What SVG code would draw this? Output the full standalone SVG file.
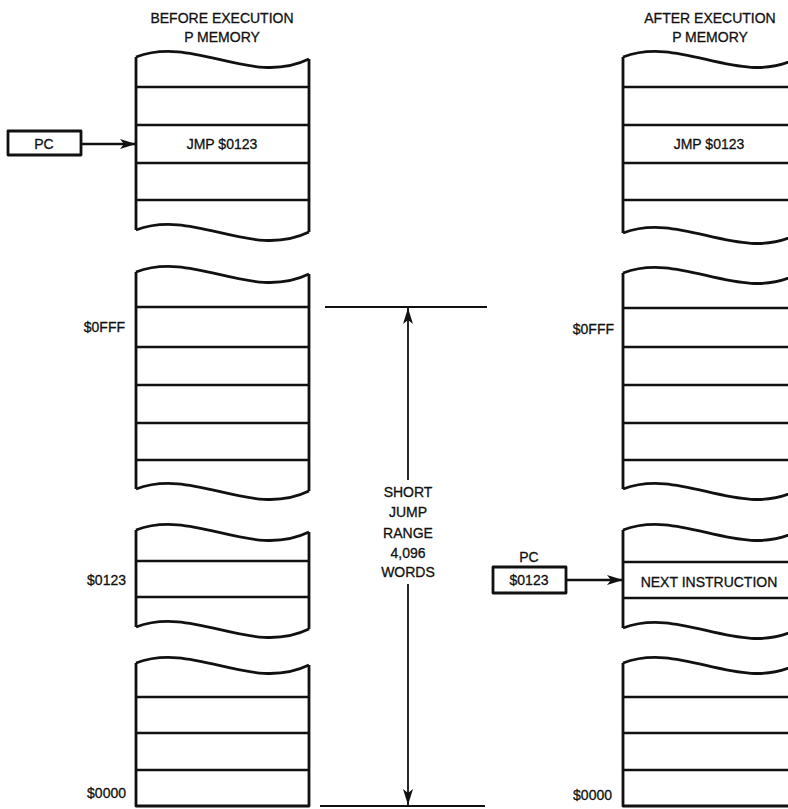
<svg xmlns="http://www.w3.org/2000/svg" xmlns:xlink="http://www.w3.org/1999/xlink" width="788" height="809" viewBox="0 0 788 809">
<style>
text{font-family:"Liberation Sans",Arial,sans-serif;font-size:14px;fill:#111;stroke:#111;stroke-width:0.3;}
.c{text-anchor:middle;}
.e{text-anchor:end;}
.ol{fill:none;stroke:#111;stroke-width:2.8;stroke-linejoin:round;}
.ln{fill:none;stroke:#111;stroke-width:2.5;}
.thin{fill:none;stroke:#111;stroke-width:1.8;}
</style>
<defs>
<path id="wave" d="M0,0 C58,-22 115,30 173,2" class="ol"/>
<marker id="ah" viewBox="0 0 16 10" refX="16" refY="5" markerWidth="16" markerHeight="10" markerUnits="userSpaceOnUse" orient="auto-start-reverse">
<path d="M0,0 L16,5 L0,10 L4,5 Z" fill="#111"/>
</marker>
</defs>
<rect width="788" height="809" fill="#fff"/>

<g id="titles">
<text class="c" x="222" y="23">BEFORE EXECUTION</text>
<text class="c" x="222" y="42">P MEMORY</text>
<text class="c" x="710" y="23">AFTER EXECUTION</text>
<text class="c" x="710" y="42">P MEMORY</text>
</g>

<g id="pc-before">
<rect x="8" y="131" width="73" height="24" class="ol"/>
<text class="c" x="44" y="149">PC</text>
</g>

<g id="mem-before-1">
<use xlink:href="#wave" x="136" y="57"/>
<use xlink:href="#wave" x="136" y="230"/>
<path class="ol" d="M136,57 V230 M309,59 V232"/>
<path class="ln" d="M136,87 H309 M136,125 H309 M136,163 H309 M136,200 H309"/>
<text class="c" x="222" y="149">JMP $0123</text>
</g>

<g id="mem-before-2">
<use xlink:href="#wave" x="136" y="272"/>
<use xlink:href="#wave" x="136" y="489"/>
<path class="ol" d="M136,272 V489 M309,274 V491"/>
<path class="ln" d="M136,307 H309 M136,347 H309 M136,385 H309 M136,423 H309 M136,460 H309"/>
<text class="e" x="125" y="332">$0FFF</text>
</g>

<g id="mem-before-3">
<use xlink:href="#wave" x="136" y="530"/>
<use xlink:href="#wave" x="136" y="627"/>
<path class="ol" d="M136,530 V627 M309,532 V629"/>
<path class="ln" d="M136,561 H309 M136,597 H309"/>
<text class="e" x="126" y="585">$0123</text>
</g>

<g id="mem-before-4">
<use xlink:href="#wave" x="136" y="663"/>
<path class="ol" d="M136,663 V806 H309 V665"/>
<path class="ln" d="M136,697 H309 M136,733 H309 M136,770 H309"/>
<text class="e" x="126" y="798">$0000</text>
</g>

<g id="range-label">
<text class="c" x="408" y="497">SHORT</text>
<text class="c" x="408" y="517">JUMP</text>
<text class="c" x="408" y="538">RANGE</text>
<text class="c" x="408" y="558">4,096</text>
<text class="c" x="408" y="577">WORDS</text>
</g>

<g id="mem-after-1">
<use xlink:href="#wave" x="623" y="57"/>
<use xlink:href="#wave" x="623" y="233"/>
<path class="ol" d="M623,57 V233 M796,59 V235"/>
<path class="ln" d="M623,87 H796 M623,125 H796 M623,163 H796 M623,200 H796"/>
<text class="c" x="709" y="149">JMP $0123</text>
</g>

<g id="mem-after-2">
<use xlink:href="#wave" x="623" y="273"/>
<use xlink:href="#wave" x="623" y="489"/>
<path class="ol" d="M623,273 V489 M796,275 V491"/>
<path class="ln" d="M623,308 H796 M623,347 H796 M623,385 H796 M623,423 H796 M623,460 H796"/>
<text class="e" x="614" y="334">$0FFF</text>
</g>

<g id="mem-after-3">
<use xlink:href="#wave" x="623" y="530"/>
<use xlink:href="#wave" x="623" y="628"/>
<path class="ol" d="M623,530 V628 M796,532 V630"/>
<path class="ln" d="M623,562 H796 M623,598 H796"/>
<text class="c" x="709" y="587">NEXT INSTRUCTION</text>
</g>

<g id="mem-after-4">
<use xlink:href="#wave" x="623" y="663"/>
<path class="ol" d="M623,663 V806 H796 V665"/>
<path class="ln" d="M623,697 H796 M623,733 H796 M623,770 H796"/>
<text class="e" x="612" y="800">$0000</text>
</g>

<g id="pc-after">
<text class="c" x="529" y="562">PC</text>
<rect x="493" y="567" width="73" height="26" class="ol"/>
<text class="c" x="529" y="585">$0123</text>
</g>

<g id="connectors">
<line class="ln" x1="81" y1="144" x2="136" y2="144" marker-end="url(#ah)"/>
<line class="ln" x1="566" y1="580" x2="623" y2="580" marker-end="url(#ah)"/>
<line class="thin" x1="325" y1="307" x2="487" y2="307"/>
<line class="thin" x1="320" y1="806" x2="485" y2="806"/>
<line class="thin" x1="408" y1="480" x2="408" y2="308" marker-end="url(#ah)"/>
<line class="thin" x1="408" y1="584" x2="408" y2="805" marker-end="url(#ah)"/>
</g>
</svg>
